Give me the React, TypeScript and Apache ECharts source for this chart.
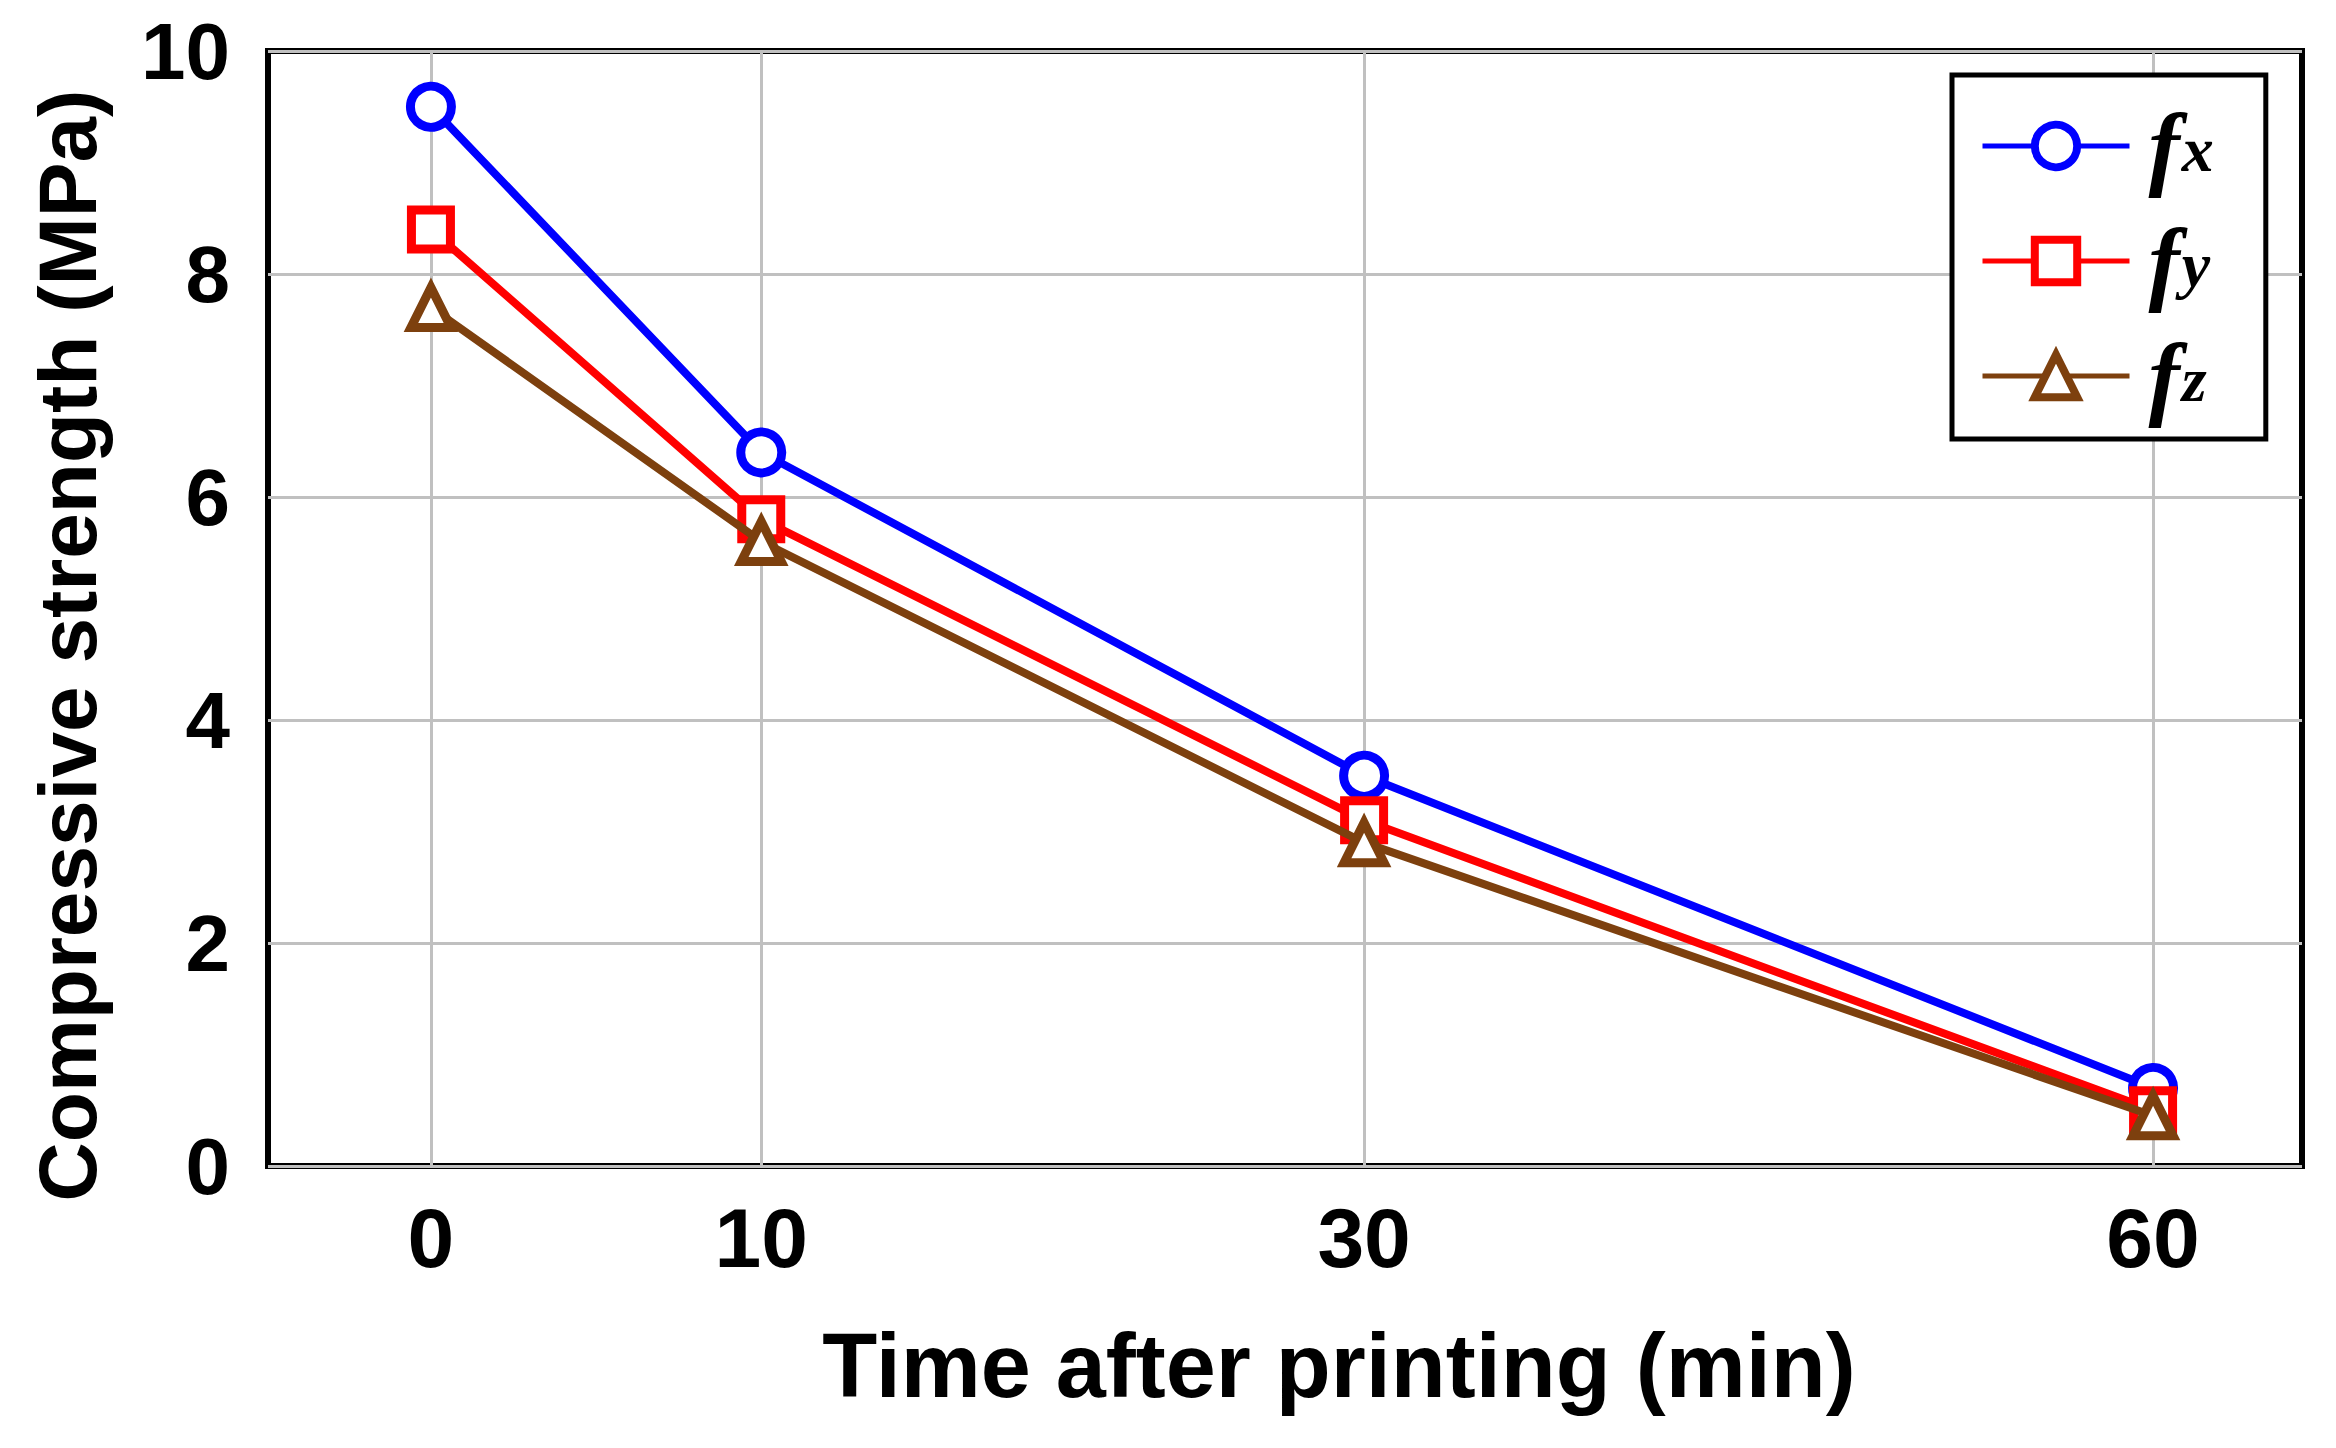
import React, { useEffect, useRef } from "react";
import * as echarts from "echarts";

// Data
const times = [0, 10, 30, 60]; // min
const fx = [9.5, 6.4, 3.5, 0.7];
const fy = [8.4, 5.8, 3.1, 0.5];
const fz = [7.7, 5.6, 2.9, 0.45];
const seriesNames = ["x", "y", "z"];
const seriesColors = ["#0000ff", "#ff0000", "#7d400e"];
const seriesSymbols = ["circle", "rect", "triangle"];
const yTicks = [0, 2, 4, 6, 8, 10];

// the reference time axis is compressed towards the right: reproduce it with a log axis of (t + OFFSET)
const OFFSET = 150;
const X_MIN = 145.3;
const X_MAX = 216.2;

const FONT = '"Liberation Sans", Arial, sans-serif';
const MATH_FONT = '"Liberation Serif", "DejaVu Serif", serif';

export default function App() {
  const ref = useRef<HTMLDivElement>(null);
  useEffect(() => {
    document.body.style.margin = "0";
    document.body.style.overflow = "hidden";
    const chart = echarts.init(ref.current!, null, { renderer: "svg" });
    const all = [fx, fy, fz];
    const series = all.map((vals, i) => ({
      name: seriesNames[i],
      type: "line",
      data: times.map((t, k) => [t + OFFSET, vals[k]]),
      symbol: seriesSymbols[i],
      symbolSize: i === 2 ? 40 : i === 1 ? 39 : 41,
      lineStyle: { width: 8, color: seriesColors[i] },
      itemStyle: { color: "#ffffff", borderColor: seriesColors[i], borderWidth: 9 },
      z: 3 + i,
    }));
    chart.setOption({
      animation: false,
      backgroundColor: "#ffffff",
      grid: {
        left: 268,
        right: 34,
        top: 51,
        bottom: 282,
        show: true,
        borderColor: "#000",
        borderWidth: 6,
        backgroundColor: "transparent",
        containLabel: false,
        outerBoundsMode: "none",
      },
      legend: {
        orient: "vertical",
        left: 1952,
        top: 75,
        padding: [12, 52, 16, 28],
        itemWidth: 147,
        itemHeight: 53,
        itemGap: 9,
        borderColor: "#000",
        borderWidth: 5,
        backgroundColor: "#fff",
        data: seriesNames.map((n, i) => ({
          name: n,
          itemStyle: { color: "#ffffff", borderColor: seriesColors[i], borderWidth: 8 },
          lineStyle: { color: seriesColors[i], width: 5 },
        })),
        formatter: (n: string) => `{f|f}{s|${n}}`,
        textStyle: {
          rich: {
            f: {
              fontFamily: MATH_FONT,
              fontStyle: "italic",
              fontWeight: "bold",
              fontSize: 94,
              lineHeight: 70,
              padding: [0, 2, 0, 14],
              color: "#000",
              verticalAlign: "middle",
            },
            s: {
              fontFamily: MATH_FONT,
              fontStyle: "italic",
              fontWeight: "bold",
              fontSize: 64,
              lineHeight: 40,
              verticalAlign: "bottom",
              padding: [30, 0, 0, 0],
              color: "#000",
            },
          },
        },
      },
      xAxis: {
        type: "log",
        min: X_MIN,
        max: X_MAX,
        name: "Time after printing (min)",
        nameLocation: "middle",
        nameGap: 155,
        nameTextStyle: {
          fontFamily: FONT,
          fontWeight: "bold",
          fontSize: 90,
          color: "#000",
          padding: [0, 0, 0, 108],
        },
        axisLine: { show: false },
        axisTick: { show: false, customValues: times.map((t) => t + OFFSET) },
        axisLabel: {
          customValues: times.map((t) => t + OFFSET),
          formatter: (v: number) => String(Math.round(v - OFFSET)),
          fontFamily: FONT,
          fontWeight: "bold",
          fontSize: 84,
          color: "#000",
          margin: 30,
        },
        splitLine: { show: true, lineStyle: { color: "#c0c0c0", width: 3 } },
      },
      yAxis: {
        type: "value",
        min: 0,
        max: 10,
        interval: 2,
        name: "Compressive strength (MPa)",
        nameLocation: "middle",
        nameGap: 160,
        nameRotate: 90,
        nameTextStyle: {
          fontFamily: FONT,
          fontWeight: "bold",
          fontSize: 82,
          color: "#000",
          padding: [0, 74, 0, 0],
        },
        axisLine: { show: false },
        axisTick: { show: false },
        axisLabel: {
          fontFamily: FONT,
          fontWeight: "bold",
          fontSize: 80,
          color: "#000",
          margin: 38,
          customValues: yTicks,
        },
        splitLine: { show: true, lineStyle: { color: "#c0c0c0", width: 3 } },
      },
      series,
    });
    return () => chart.dispose();
  }, []);
  return <div ref={ref} style={{ width: 2336, height: 1448 }} />;
}
